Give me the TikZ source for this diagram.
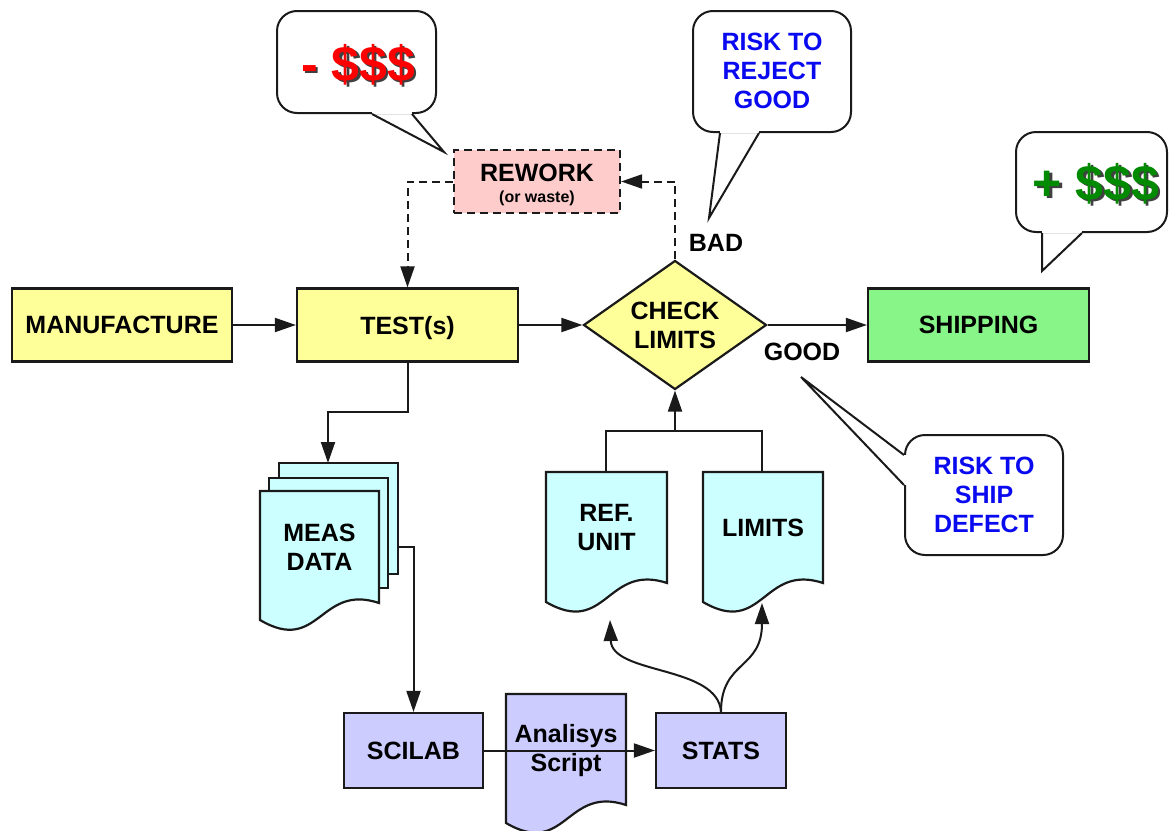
\documentclass[tikz,border=0pt]{standalone}
\usepackage{fontspec}
\setmainfont{Liberation Sans}
\usetikzlibrary{arrows.meta,shapes.geometric}
\definecolor{edge}{HTML}{1A1A1A}
\definecolor{yel}{HTML}{FFFF99}
\definecolor{cyn}{HTML}{CCFFFF}
\definecolor{lav}{HTML}{CCCCFF}
\definecolor{pnk}{HTML}{FFCCCC}
\definecolor{grn}{HTML}{88F588}
\definecolor{riskblue}{HTML}{0A0AF0}
\definecolor{moneyred}{HTML}{FF0000}
\definecolor{moneygreen}{HTML}{008A00}
\definecolor{shadowc}{HTML}{404040}
\newcommand{\mydocshape}[6]{%
  \filldraw[fill=#6, draw=edge, line width=2.2pt] (#1,#2) -- (#3,#2) -- (#3,#4)
    .. controls ({(#1+#3)/2},{#4-20}) and ({(#1+#3)/2},{#5+35}) .. (#1,#5) -- cycle;}
\newcommand{\mycallout}[9]{%
  \filldraw[fill=white, draw=edge, line width=2pt, rounded corners=20pt] (#1,#2) rectangle (#3,#4);
  \fill[white] (#5) -- (#6) -- (#7) -- (#8) -- cycle;
  \draw[edge, line width=2pt, line join=miter] (#6) -- (#9) -- (#7);}
\newcommand{\myshadowtext}[2]{%
  \rlap{\raisebox{-2.5pt}{\hspace{2.5pt}\textcolor{shadowc}{#2}}}\textcolor{#1}{#2}}
\begin{document}
\begin{tikzpicture}[x=1pt,y=-1pt,
  every node/.style={font=\bfseries\fontsize{25}{29}\selectfont, align=center, text=black},
  box/.style={draw=edge, line width=2.2pt, inner sep=0pt},
  money/.style={font=\bfseries\fontsize{50}{50}\selectfont, inner sep=0pt},
  conn/.style={draw=edge, line width=2pt, -{Triangle[length=21pt,width=14pt]}},
  plain/.style={draw=edge, line width=2pt},
  dashline/.style={dash pattern=on 8pt off 5pt}]
\useasboundingbox (0,0) rectangle (1170,830);
\fill[white] (0,0) rectangle (1170,830);

% callouts
\mycallout{277}{11}{436}{113}{372,104}{372,114}{412,114}{412,104}{444,152}
\node[money] (minus) at (358,66) {\myshadowtext{moneyred}{- \$\$\$}};

\mycallout{693}{11}{851}{132}{720,123}{720,133}{759,133}{759,123}{709,218}
\node[text=riskblue] (rrg) at (772,71) {RISK TO\\REJECT\\GOOD};

\mycallout{1016}{132}{1167}{232}{1042,223}{1042,233}{1082,233}{1082,223}{1042,271}
\node[money] (plus) at (1096,185) {\myshadowtext{moneygreen}{+ \$\$\$}};

\mycallout{905}{435}{1063}{555}{914,455}{904,455}{904,485}{914,485}{801,377}
\node[text=riskblue] (rsd) at (984,495) {RISK TO\\SHIP\\DEFECT};

% main row
\node[box, fill=yel, minimum width=220pt, minimum height=73pt] (manu) at (122,325) {MANUFACTURE};
\node[box, fill=yel, minimum width=221pt, minimum height=73pt, text depth=0pt] (test) at (407.5,325) {TEST(s)};
\node[diamond, draw=edge, line width=2.2pt, fill=yel, minimum width=183pt, minimum height=129pt,
      inner sep=0pt, shape aspect=1.42] (chk) at (675,325) {CHECK\\LIMITS};
\node[box, fill=grn, minimum width=221pt, minimum height=73pt] (ship) at (978.5,325) {SHIPPING};

\node[box, fill=pnk, dashline, minimum width=166pt, minimum height=63pt] (rework) at (537,181.5) {};
\node[anchor=base] (reworkT) at (537,181) {REWORK};
\node[anchor=base, font=\bfseries\fontsize{16}{18}\selectfont] (reworkS) at (537,202) {(or waste)};

\node (bad) at (716,243) {BAD};
\node (good) at (802,352) {GOOD};

% documents
\filldraw[fill=cyn, draw=edge, line width=2.2pt] (279,463) rectangle (398,574);
\filldraw[fill=cyn, draw=edge, line width=2.2pt] (269,478) rectangle (388,588);
\mydocshape{260}{491}{379}{603}{620}{cyn}
\node (meas) at (319.5,547) {MEAS\\DATA};
\coordinate (measT) at (328,463);
\coordinate (measR) at (398,547);

\mydocshape{546}{472}{667}{583}{602}{cyn}
\node (ref) at (606.5,528) {REF.\\UNIT};
\coordinate (refT) at (606,472);
\coordinate (refB) at (610,620);

\mydocshape{703}{472}{823}{583}{602}{cyn}
\node (lim) at (763,528) {LIMITS};
\coordinate (limT) at (762,472);
\coordinate (limB) at (762,603);
\coordinate (junc) at (675,431);

\mydocshape{506}{694}{626}{805}{823}{lav}
\node (script) at (566,750.5) {Analisys\\Script};

\node[box, fill=lav, minimum width=139pt, minimum height=75pt] (scilab) at (413.5,750.5) {SCILAB};
\node[box, fill=lav, minimum width=130pt, minimum height=75pt] (stats) at (721,750.5) {STATS};

% connectors
\draw[conn] (manu.east) -- (test.west);
\draw[conn] (test.east) -- (chk.west);
\draw[conn] (chk.east) -- (ship.west);
\draw[conn, dashline] (chk.north) |- (rework.east);
\draw[conn, dashline] (rework.west) -| (test.north);
\draw[conn] (test.south) -- ++(0,49) -| (measT);
\draw[conn] (measR) -| (scilab.north);
\draw[conn] (scilab.east) -- (stats.west);
\draw[conn] (stats.north) .. controls (718,665) and (612,675) .. (refB);
\draw[conn] (stats.north) .. controls (721,660) and (762,670) .. (limB);
\draw[plain] (refT) -- (refT |- junc) -- (limT |- junc) -- (limT);
\draw[conn] (junc) -- (chk.south);
\end{tikzpicture}
\end{document}
